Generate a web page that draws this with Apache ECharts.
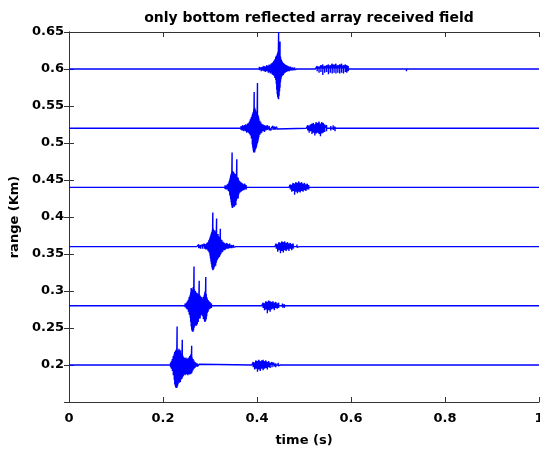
<!DOCTYPE html>
<html>
<head>
<meta charset="utf-8">
<script src="https://cdn.jsdelivr.net/npm/echarts@6/dist/echarts.min.js"></script>
<style>html,body{margin:0;padding:0;background:#fff;}#c{width:540px;height:454px;}</style>
</head>
<body>
<div id="c"></div>
<script>
// Chart text
const titleText = 'only bottom reflected array received field';
const xLabel = 'time (s)';
const yLabel = 'range (Km)';
const xTicks = [0, 0.2, 0.4, 0.6, 0.8, 1];
const yTicks = [0.2, 0.25, 0.3, 0.35, 0.4, 0.45, 0.5, 0.55, 0.6, 0.65];

// Receiver ranges (Km) = trace baselines
const ranges = [0.6, 0.52, 0.44, 0.36, 0.28, 0.2];

// Envelope samples: [time s, peak up (m), peak down (m)]
const trace060 = [
  [0.386,1,-1],[0.392,2,-1],[0.397,1,-2],[0.401,2,-2],[0.405,3,-1],[0.409,2,-3],[0.412,3,-2],[0.415,4,-3],[0.418,3,-4],[0.421,5,-3],[0.424,4,-5],[0.426,6,-4],[0.428,5,-6],[0.430,7,-5],[0.432,8,-7],[0.434,9,-8],[0.436,11,-9],[0.438,13,-12],[0.440,16,-15],[0.441,18,-20],[0.442,15,-28],[0.443,20,-34],[0.444,22,-38],[0.445,24,-40],[0.446,50,-41],[0.447,24,-36],[0.448,19,-30],[0.449,37,-25],[0.450,17,-18],[0.451,14,-14],[0.452,12,-11],[0.454,10,-9],[0.456,8,-8],[0.458,7,-6],[0.460,6,-5],[0.463,5,-4],[0.466,4,-3],[0.469,3,-3],[0.472,3,-2],[0.476,2,-2],[0.480,2,-1],[0.485,1,-2],[0.490,2,-1],[0.495,1,-1],
  [0.524,2,-2],[0.528,4,-3],[0.532,3,-5],[0.536,5,-4],[0.540,6,-8],[0.544,4,-5],[0.548,5,-4],[0.552,6,-7],[0.556,5,-5],[0.560,7,-6],[0.564,6,-5],[0.568,7,-6],[0.572,5,-5],[0.576,6,-6],[0.580,7,-5],[0.584,5,-6],[0.588,6,-4],[0.591,5,-5],[0.594,4,-3],[0.597,2,-2],
  [0.695,1,-1],[0.705,1,-2],[0.712,2,-1],[0.718,1,-3],[0.728,1,-1],[0.748,2,-1]
];
const trace052 = [
  [0.353,1,-1],[0.357,2,-1],[0.360,1,-2],[0.363,2,-2],[0.366,3,-2],[0.368,2,-3],[0.370,4,-3],[0.372,3,-4],
  [0.374,4,-3],[0.376,5,-4],[0.378,4,-6],[0.380,6,-5],[0.382,7,-6],[0.384,9,-8],[0.386,12,-10],[0.388,15,-14],[0.390,18,-22],[0.391,20,-26],[0.392,22,-30],[0.393,25,-33],[0.394,49,-32],[0.395,28,-33],[0.396,26,-30],[0.397,24,-28],[0.398,22,-27],[0.399,20,-25],[0.400,19,-22],[0.401,61,-20],[0.402,18,-18],[0.403,16,-15],[0.404,13,-12],[0.406,10,-9],[0.408,8,-7],[0.410,6,-6],[0.413,5,-4],[0.416,4,-5],[0.419,3,-3],[0.422,4,-2],[0.426,3,-3],[0.430,2,-3],[0.434,3,-2],[0.438,2,-2],[0.442,2,-1],[0.445,1,-1],
  [0.505,2,-2],[0.508,4,-3],[0.511,3,-6],[0.514,5,-4],[0.517,6,-8],[0.520,7,-6],[0.523,5,-10],[0.526,8,-7],[0.529,7,-6],[0.532,9,-8],[0.535,6,-11],[0.538,8,-7],[0.541,7,-6],[0.544,5,-5],[0.548,4,-4],[0.552,2,-2],[0.557,3,-3],[0.562,4,-2],[0.566,2,-4],[0.570,1,-1],
  [0.668,1,-2],[0.680,1,-1],[0.694,2,-1]
];
const trace044 = [
  [0.317,1,-1],[0.321,2,-1],[0.325,1,-2],[0.329,2,-2],[0.332,3,-2],[0.335,2,-3],[0.337,4,-3],[0.339,5,-5],[0.341,8,-6],[0.342,10,-10],[0.343,13,-12],[0.344,16,-16],[0.345,18,-20],[0.346,20,-24],[0.347,47,-27],[0.348,22,-28],[0.349,20,-26],[0.350,21,-25],[0.351,18,-24],[0.352,19,-26],[0.353,17,-22],[0.354,16,-20],[0.355,18,-24],[0.356,15,-18],[0.357,38,-16],[0.358,14,-14],[0.359,12,-12],[0.360,13,-15],[0.361,10,-10],[0.362,9,-8],[0.364,8,-7],[0.366,7,-6],[0.368,6,-5],[0.370,5,-4],[0.372,4,-4],[0.374,5,-3],[0.377,3,-3],[0.380,2,-2],[0.384,1,-2],[0.388,2,-1],[0.392,1,-1],
  [0.468,2,-2],[0.471,4,-3],[0.474,3,-6],[0.477,6,-5],[0.480,5,-10],[0.483,7,-6],[0.486,6,-8],[0.489,8,-6],[0.492,6,-7],[0.495,7,-5],[0.498,5,-6],[0.501,6,-4],[0.504,4,-5],[0.507,5,-3],[0.510,3,-3],[0.514,2,-2],[0.518,1,-1],[0.534,2,-2],
  [0.644,2,-1],[0.668,1,-2]
];
const trace036 = [
  [0.264,1,-1],[0.268,2,-1],[0.272,2,-2],[0.276,3,-2],[0.280,2,-3],[0.284,3,-3],[0.288,4,-3],[0.291,3,-4],[0.294,5,-4],[0.296,6,-6],[0.298,9,-8],[0.300,12,-12],[0.301,14,-16],[0.302,16,-20],[0.303,18,-24],[0.304,20,-28],[0.305,22,-30],[0.306,46,-32],[0.307,24,-31],[0.308,22,-30],[0.309,20,-28],[0.310,22,-27],[0.311,19,-25],[0.312,20,-26],[0.313,18,-22],[0.314,38,-20],[0.315,16,-18],[0.316,15,-17],[0.317,17,-16],[0.318,14,-15],[0.319,13,-13],[0.320,12,-14],[0.321,11,-12],[0.322,24,-11],[0.323,10,-10],[0.325,9,-8],[0.327,7,-7],[0.329,6,-5],[0.331,5,-5],[0.333,4,-4],[0.336,5,-3],[0.339,3,-3],[0.342,4,-2],[0.346,2,-2],[0.350,2,-1],[0.355,1,-2],[0.360,1,-1],
  [0.438,2,-2],[0.441,4,-3],[0.444,3,-7],[0.447,6,-5],[0.450,5,-9],[0.453,7,-6],[0.456,6,-8],[0.459,7,-5],[0.462,5,-6],[0.465,6,-4],[0.468,4,-6],[0.471,5,-3],[0.474,3,-5],[0.477,4,-3],[0.481,2,-2],[0.485,3,-1],[0.490,1,-1],
  [0.620,2,-1],[0.635,1,-2],[0.655,2,-1]
];
const trace028 = [
  [0.240,1,-1],[0.244,2,-2],[0.247,3,-2],[0.250,4,-4],[0.252,6,-5],[0.254,8,-8],[0.256,12,-12],[0.258,15,-16],[0.259,18,-22],[0.260,24,-28],[0.261,20,-32],[0.262,22,-34],[0.263,18,-35],[0.264,25,-35],[0.265,20,-33],[0.266,53,-30],[0.267,22,-28],[0.268,18,-26],[0.269,20,-27],[0.270,16,-25],[0.271,18,-27],[0.272,15,-24],[0.273,17,-25],[0.274,14,-20],[0.275,16,-22],[0.276,13,-18],[0.277,34,-16],[0.278,12,-15],[0.279,14,-17],[0.280,11,-13],[0.282,12,-12],[0.284,10,-14],[0.286,12,-18],[0.288,15,-20],[0.289,18,-22],[0.290,20,-21],[0.291,39,-20],[0.292,16,-18],[0.293,12,-14],[0.294,10,-10],[0.296,8,-8],[0.298,6,-5],[0.300,5,-4],[0.303,3,-3],[0.306,2,-2],[0.310,1,-1],
  [0.410,2,-2],[0.413,4,-3],[0.416,3,-6],[0.419,6,-5],[0.422,5,-10],[0.425,7,-6],[0.428,6,-8],[0.431,5,-5],[0.434,6,-4],[0.437,4,-6],[0.440,5,-3],[0.443,3,-4],[0.446,4,-3],[0.450,2,-2],[0.454,3,-2],[0.458,2,-3],[0.462,1,-2],[0.466,2,-1],[0.482,1,-2],
  [0.590,2,-1],[0.598,1,-2],[0.606,2,-1],[0.614,1,-2],[0.622,2,-1],[0.630,1,-1]
];
const trace020 = [
  [0.210,1,-1],[0.213,2,-2],[0.216,3,-3],[0.218,5,-5],[0.220,8,-8],[0.222,12,-14],[0.224,15,-20],[0.225,18,-26],[0.226,16,-28],[0.227,20,-30],[0.228,18,-31],[0.229,22,-31],[0.230,52,-30],[0.231,18,-28],[0.232,20,-26],[0.233,16,-24],[0.234,22,-23],[0.235,18,-24],[0.236,15,-22],[0.237,20,-23],[0.238,14,-20],[0.239,12,-18],[0.240,16,-19],[0.241,34,-17],[0.242,13,-16],[0.243,11,-15],[0.245,10,-13],[0.247,9,-14],[0.249,10,-12],[0.251,8,-13],[0.253,9,-14],[0.255,10,-12],[0.257,12,-13],[0.259,14,-12],[0.260,12,-10],[0.261,26,-11],[0.262,10,-9],[0.264,8,-7],[0.266,6,-5],[0.268,4,-4],[0.270,3,-2],[0.273,2,-2],[0.277,1,-1],
  [0.389,2,-2],[0.392,4,-3],[0.395,3,-6],[0.398,6,-5],[0.401,5,-9],[0.404,7,-6],[0.407,5,-8],[0.410,6,-5],[0.413,7,-7],[0.416,5,-5],[0.419,6,-4],[0.422,4,-6],[0.425,5,-3],[0.428,3,-4],[0.432,4,-3],[0.436,3,-2],[0.440,2,-3],[0.445,3,-1],[0.450,2,-2],[0.455,1,-1],[0.463,2,-1],
  [0.587,2,-1],[0.595,1,-2],[0.603,2,-1],[0.611,1,-2],[0.620,2,-1],[0.640,1,-1]
];
const traces = [trace060, trace052, trace044, trace036, trace028, trace020];

const FONT = 'DejaVu Sans';
const COLOR = '#0000ff';
const AXIS = '#333333';

function buildLine(base, samples) {
  const pts = [[0, base]];
  samples.slice().sort((a, b) => a[0] - b[0]).forEach(s => {
    const t = s[0];
    pts.push([t, base], [t, base + s[1] / 1000], [t, base + s[2] / 1000], [t, base]);
  });
  pts.push([1, base]);
  return pts;
}

const series = ranges.map((r, i) => ({
  type: 'line',
  data: buildLine(r, traces[i]),
  showSymbol: false,
  symbol: 'none',
  lineStyle: { color: COLOR, width: 1.4 },
  animation: false,
  clip: true,
  silent: true
}));

const fmt = v => {
  const r = Math.round(v * 100) / 100;
  return String(r);
};

const chart = echarts.init(document.getElementById('c'), null, { renderer: 'canvas' });
chart.setOption({
  backgroundColor: '#ffffff',
  animation: false,
  title: {
    text: titleText,
    left: 304, textAlign: 'center',
    top: 6,
    textStyle: { fontFamily: FONT, fontSize: 14, fontWeight: 'bold', color: '#000' }
  },
  grid: { left: 69, right: 1, top: 32, bottom: 52, containLabel: false, outerBoundsMode: 'none' },
  xAxis: [{
    type: 'value', min: 0, max: 1, interval: 0.2,
    name: xLabel, nameLocation: 'middle', nameGap: 32,
    nameTextStyle: { fontFamily: FONT, fontSize: 13, fontWeight: 'bold', color: '#000' },
    axisLine: { show: true, lineStyle: { color: AXIS, width: 1 } },
    axisTick: { show: true, inside: true, length: 5, lineStyle: { color: AXIS } },
    axisLabel: { fontFamily: FONT, fontSize: 13, fontWeight: 'bold', color: '#000', margin: 10, formatter: fmt },
    splitLine: { show: false }
  }, {
    type: 'value', min: 0, max: 1, interval: 0.2, position: 'top',
    axisLine: { show: true, lineStyle: { color: AXIS, width: 1 } },
    axisTick: { show: true, inside: true, length: 5, lineStyle: { color: AXIS } },
    axisLabel: { show: false }, splitLine: { show: false }
  }],
  yAxis: [{
    type: 'value', min: 0.15, max: 0.65, interval: 0.05,
    name: yLabel, nameLocation: 'middle', nameGap: 44, nameRotate: 90,
    nameTextStyle: { fontFamily: FONT, fontSize: 13, fontWeight: 'bold', color: '#000' },
    axisLine: { show: true, lineStyle: { color: AXIS, width: 1 } },
    axisTick: { show: true, inside: true, length: 5, lineStyle: { color: AXIS } },
    axisLabel: { fontFamily: FONT, fontSize: 13, fontWeight: 'bold', color: '#000', margin: 5,
      formatter: v => (yTicks.some(t => Math.abs(t - v) < 1e-6) ? fmt(v) : '') },
    splitLine: { show: false }
  }, {
    type: 'value', min: 0.15, max: 0.65, interval: 0.05, position: 'right',
    axisLine: { show: true, lineStyle: { color: AXIS, width: 1 } },
    axisTick: { show: true, inside: true, length: 5, lineStyle: { color: AXIS } },
    axisLabel: { show: false }, splitLine: { show: false }
  }],
  series: series
});
</script>
</body>
</html>
